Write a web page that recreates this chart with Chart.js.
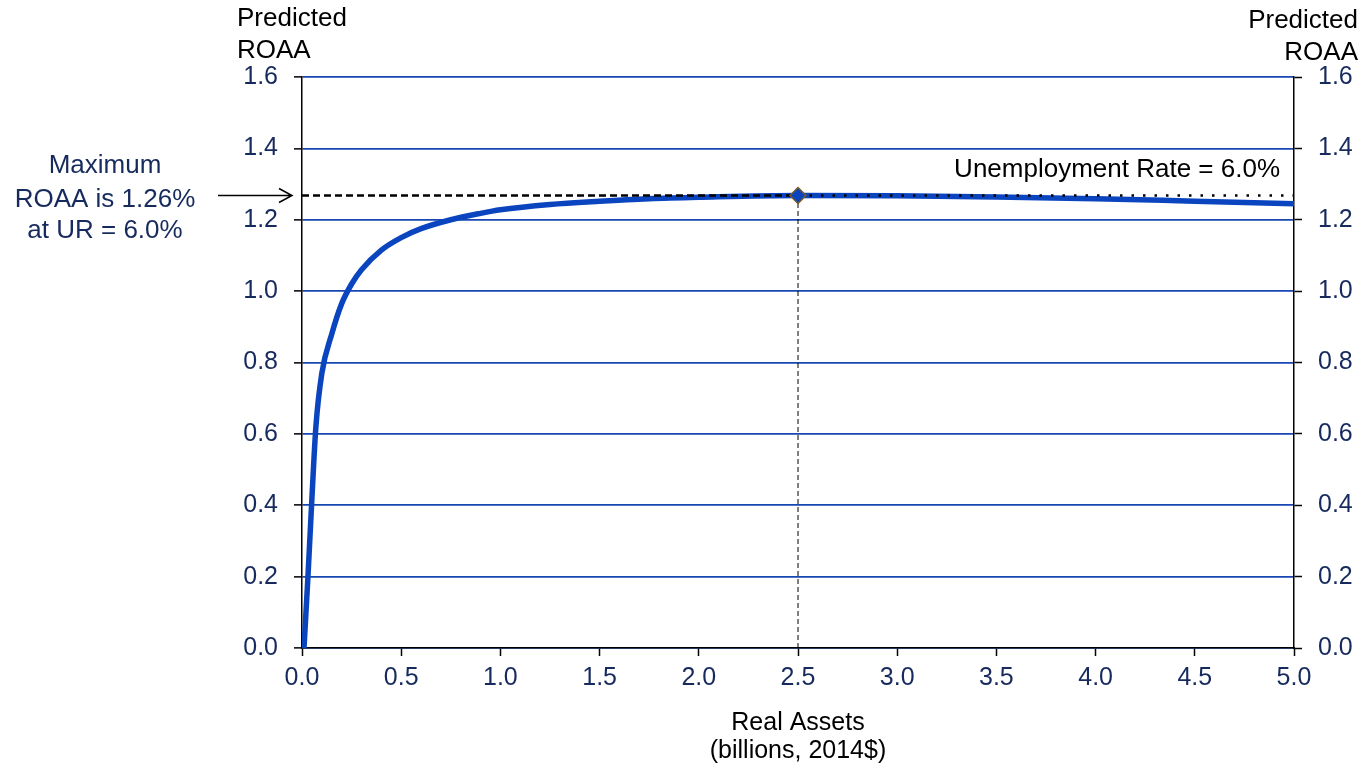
<!DOCTYPE html>
<html>
<head>
<meta charset="utf-8">
<script src="https://cdn.jsdelivr.net/npm/chart.js@4/dist/chart.umd.min.js"></script>
<style>
  html, body { margin: 0; padding: 0; background: #fff; }
  #wrap { width: 1362px; height: 765px; }
</style>
</head>
<body>
<div id="wrap"><canvas id="roaaChart" width="1362" height="765"></canvas></div>
<script>
// real assets (billions, 2014$) and predicted ROAA at UR = 6.0%
const assets = [0.01, 0.03, 0.05, 0.07, 0.1, 0.15, 0.2, 0.25, 0.3, 0.4, 0.5, 0.6, 0.75, 0.9, 1.0, 1.25, 1.5, 1.75, 2.0, 2.5, 3.0, 3.5, 4.0, 4.5, 5.0];
const roaa = [0.0, 0.2, 0.42, 0.62, 0.77, 0.88, 0.965, 1.02, 1.06, 1.115, 1.15, 1.175, 1.2, 1.218, 1.228, 1.243, 1.252, 1.259, 1.263, 1.268, 1.267, 1.264, 1.259, 1.252, 1.245];

const maxAssets = 2.5;
const maxRoaa = 1.268;
const xTicks = [0, 0.5, 1, 1.5, 2, 2.5, 3, 3.5, 4, 4.5, 5];
const yTicks = [0, 0.2, 0.4, 0.6, 0.8, 1.0, 1.2, 1.4, 1.6];

const navy = '#172a5e';
const gridBlue = '#1647b2';
const curveBlue = '#0a45bf';
const FONT = '"Liberation Sans", Arial, sans-serif';

const curve = assets.map((x, i) => ({ x: x, y: roaa[i] }));

const annotations = {
    id: 'annotations',
    afterDraw(chart) {
        const ctx = chart.ctx;
        const y = chart.scales.y;
        const yMax = y.getPixelForValue(maxRoaa);
        ctx.save();
        ctx.font = '26px ' + FONT;
        ctx.textBaseline = 'middle';

        ctx.fillStyle = '#000';
        ctx.textAlign = 'left';
        ctx.fillText('Predicted', 237, 19);
        ctx.fillText('ROAA', 237, 51);
        ctx.textAlign = 'right';
        ctx.fillText('Predicted', 1358, 21);
        ctx.fillText('ROAA', 1358, 53);
        ctx.fillText('Unemployment Rate = 6.0%', 1280, 170);

        ctx.fillStyle = navy;
        ctx.textAlign = 'center';
        ctx.fillText('Maximum', 105, 166);
        ctx.fillText('ROAA is 1.26%', 105, 200);
        ctx.fillText('at UR = 6.0%', 105, 231);

        // arrow pointing at the max line
        ctx.strokeStyle = '#000';
        ctx.lineWidth = 1.5;
        ctx.beginPath();
        ctx.moveTo(218, yMax);
        ctx.lineTo(292, yMax);
        ctx.moveTo(279, yMax - 7);
        ctx.lineTo(292, yMax);
        ctx.lineTo(279, yMax + 7);
        ctx.stroke();
        ctx.restore();
    }
};

new Chart(document.getElementById('roaaChart'), {
    type: 'line',
    data: {
        datasets: [
            {
                label: 'Predicted ROAA',
                data: curve,
                borderColor: curveBlue,
                borderWidth: 5.5,
                pointRadius: 0,
                cubicInterpolationMode: 'monotone',
                order: 5,
            },
            {
                label: 'max dashed',
                data: [{ x: 0, y: maxRoaa }, { x: maxAssets, y: maxRoaa }],
                borderColor: '#000',
                borderWidth: 2.5,
                borderDash: [7, 4],
                pointRadius: 0,
                order: 3,
            },
            {
                label: 'max dotted',
                data: [{ x: maxAssets, y: maxRoaa }, { x: 5, y: maxRoaa }],
                borderColor: '#000',
                borderWidth: 2.5,
                borderDash: [2.5, 9],
                pointRadius: 0,
                order: 3,
            },
            {
                label: 'drop line',
                data: [{ x: maxAssets, y: 0 }, { x: maxAssets, y: maxRoaa }],
                borderColor: '#000',
                borderWidth: 1,
                borderDash: [5, 3],
                pointRadius: 0,
                order: 4,
            },
            {
                label: 'max point',
                data: [{ x: maxAssets, y: maxRoaa }],
                showLine: false,
                pointStyle: 'rectRot',
                pointRadius: 8,
                backgroundColor: curveBlue,
                borderColor: '#7a5c22',
                borderWidth: 1.5,
                order: 1,
            },
        ],
    },
    options: {
        responsive: false,
        animation: false,
        layout: { padding: { top: 77, left: 0, right: 0, bottom: 0 } },
        plugins: { legend: { display: false }, tooltip: { enabled: false } },
        scales: {
            x: {
                type: 'linear',
                min: 0,
                max: 5,
                afterBuildTicks: (s) => { s.ticks = xTicks.map((v) => ({ value: v })); },
                ticks: { color: navy, font: { family: FONT, size: 25 }, padding: 7, callback: (v) => v.toFixed(1) },
                grid: { drawOnChartArea: false, tickLength: 8, tickColor: '#000', tickWidth: 1.5 },
                border: { color: '#000', width: 1.5 },
                title: {
                    display: true,
                    text: ['Real Assets', '(billions, 2014$)'],
                    color: '#000',
                    font: { family: FONT, size: 25, lineHeight: 1.12 },
                    padding: { top: 4, bottom: 0 },
                },
                afterFit: (s) => { s.height = 117; },
            },
            y: {
                position: 'left',
                min: 0,
                max: 1.6,
                afterBuildTicks: (s) => { s.ticks = yTicks.map((v) => ({ value: v })); },
                ticks: { color: navy, font: { family: FONT, size: 25 }, padding: 16, callback: (v) => v.toFixed(1) },
                grid: { color: gridBlue, lineWidth: 1.75, tickLength: 8, tickColor: '#000', tickWidth: 1.5 },
                border: { color: '#000', width: 1.5 },
                afterFit: (s) => { s.width = 302; },
            },
            y2: {
                position: 'right',
                min: 0,
                max: 1.6,
                afterBuildTicks: (s) => { s.ticks = yTicks.map((v) => ({ value: v })); },
                ticks: { color: navy, font: { family: FONT, size: 25 }, padding: 16, callback: (v) => v.toFixed(1) },
                grid: { drawOnChartArea: false, tickLength: 8, tickColor: '#000', tickWidth: 1.5 },
                border: { color: '#000', width: 1.5 },
                afterFit: (s) => { s.width = 68; },
            },
        },
    },
    plugins: [annotations],
});
</script>
</body>
</html>
